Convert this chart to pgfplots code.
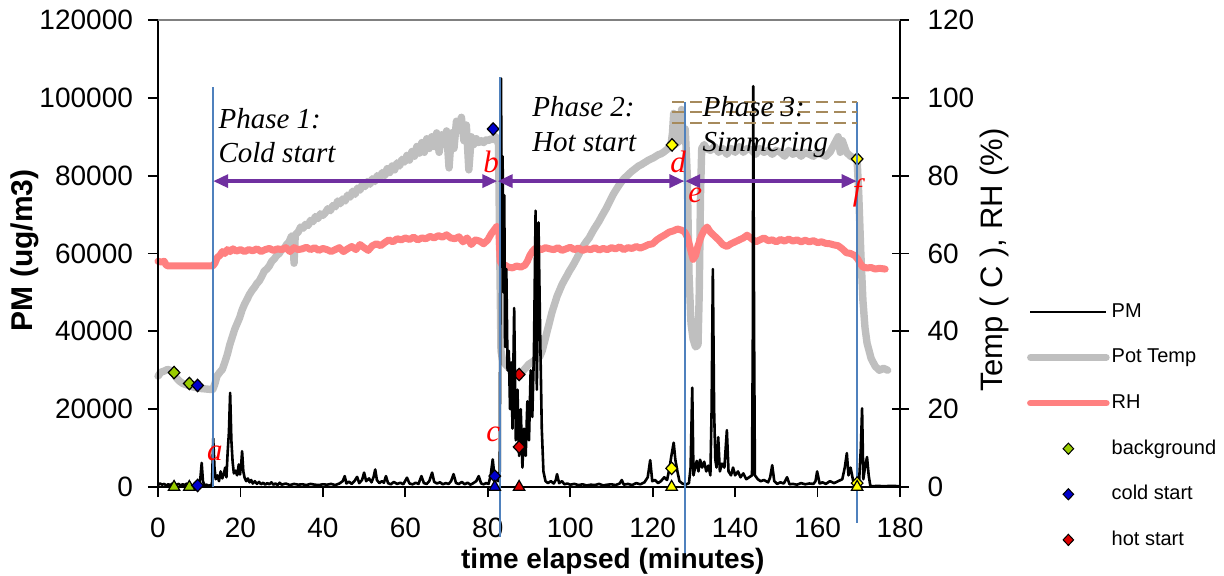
\documentclass[border=0pt]{standalone}
\usepackage{pgfplots}
\pgfplotsset{compat=1.18}
\usetikzlibrary{arrows.meta}
\usepackage{fontspec}
\setmainfont{Liberation Sans}
\newfontfamily\timesfont{Liberation Serif}

\definecolor{tempgray}{HTML}{BFBFBF}
\definecolor{rhpink}{HTML}{FF8080}
\definecolor{phasepurple}{HTML}{7030A0}
\definecolor{lineblue}{HTML}{4F81BD}
\definecolor{dashbrown}{HTML}{A68A5C}
\definecolor{bggreen}{HTML}{99CC00}
\definecolor{bgyellow}{HTML}{FFFF00}
\definecolor{coldblue}{HTML}{0000CC}
\definecolor{hotred}{HTML}{DD0000}

\newcommand\phasefont{\timesfont\itshape\fontsize{14.5}{17}\selectfont}
\newcommand\letterfont{\timesfont\itshape\fontsize{15.5}{18}\selectfont}

\pgfplotsset{
  base/.style={at={(79pt,44pt)}, anchor=south west, scale only axis,
    width=371pt, height=233.5pt, xmin=0, xmax=180, clip=false,
    tick label style={font=\fontsize{14}{16}\selectfont},
    axis line style={line width=0.9pt},
    every tick/.style={black, line width=0.9pt}},
  leg line/.style={legend image code/.code={\draw[#1] (0pt,0pt) -- (38pt,0pt);}},
  leg mark/.style={legend image code/.code={\draw[black, line width=0.5pt, #1] plot coordinates {(19pt,0pt)};}},
  dmark/.style={only marks, mark=diamond*, mark size=3.1pt,
    mark options={draw=black, line width=0.6pt, fill=#1, xscale=1.25}},
  tmark/.style={only marks, mark=triangle*, mark size=3.3pt,
    mark options={draw=black, line width=0.6pt, fill=#1}},
}

\begin{document}
\begin{tikzpicture}
% right axis: pot temperature and RH
\begin{axis}[base, ymin=0, ymax=120,
  axis x line=none, axis y line*=right,
  ytick={0,20,40,60,80,100,120}, yticklabels={0,20,40,60,80,100,120},
  tick align=center, major tick length=8.5pt,
  yticklabel style={anchor=west, xshift=6pt},
  ylabel={Temp ( C ), RH (\%)},
  every axis y label/.style={at={(axis description cs:1.127,0.486)}, anchor=center, rotate=90,
    font=\fontsize{15.5}{18}\selectfont},
]
\addplot[tempgray, line width=3.7pt, line join=round, line cap=round, forget plot] coordinates {
(0,28.5) (0.7,29.5) (1.5,29.8) (2.3,30.2) (3,30) (3.8,29.2) (4.5,28) (5.2,27.2) (6,26.6) (6.8,26.3)
(7.6,26) (8.5,25.7) (9.5,25.5) (10.5,25.3) (11.5,25.2) (12.5,25.1) (13.3,25.1) (13.8,26.5) (14.3,28.5)
(15,29.5) (15.6,30.2) (16.2,32) (16.8,34) (17.4,36.5) (18,38.5) (18.6,40.5) (19.2,42) (19.8,43.5)
(20.4,45.5) (21,47) (21.6,48.2) (22.2,49.5) (22.8,50.5) (23.4,51.3) (24,52.3) (24.6,53) (25.2,54.2)
(25.8,55.5) (26.4,56) (27,56.8) (27.6,58) (28.2,58.6) (28.8,59.5) (29.4,60) (30,61) (30.6,61.3)
(31.2,62.3) (31.8,63) (32.4,64.5) (32.8,64) (33,57.5) (33.3,64.8) (34,65.5) (34.6,66.8) (35.2,66.5)
(35.8,67.5) (36.4,67.2) (37,68.5) (37.6,68.2) (38.2,69.5) (38.8,69) (39.4,70.2) (40,69.8) (40.6,70.5)
(41.2,71.5) (41.8,71) (42.4,72.3) (43,72) (43.6,73.5) (44.2,72.8) (44.8,74) (45.4,73.5) (46,75)
(46.6,74.5) (47.2,76) (47.8,75.2) (48.4,76.8) (49,76.3) (49.6,77.8) (50.2,77.2) (50.8,78.5) (51.4,77.8)
(52,79.2) (52.6,78.5) (53.2,80) (53.8,79.5) (54.4,80.8) (55,80) (55.6,81.8) (56.2,80.8) (56.8,82.5)
(57.4,81.5) (58,83.3) (58.6,82.5) (59.2,84.2) (59.8,83.5) (60.4,85.2) (61,84) (61.6,86.2) (62.2,85)
(62.8,87.5) (63.4,85.8) (64,88.5) (64.6,86) (65.2,89.5) (65.8,87) (66.4,90) (67,87.5) (67.6,91)
(68.2,86) (68.8,90.5) (69.4,88) (70,91.5) (70.6,82) (71.2,91) (71.8,87) (72.4,94) (73,92) (73.6,95)
(74.2,89) (74.8,93) (75.4,81.5) (76,90) (76.6,88) (77.2,89.5) (77.8,88.5) (78.4,89) (79,88.5)
(79.6,89.2) (80.2,89) (80.8,89.5) (81.4,89.3) (82,90) (82.6,88) (82.9,60) (83.2,35) (83.6,32.5)
(84.3,31.5) (85,30.8) (85.7,30) (86.4,29.6) (87.1,29.2) (87.8,29.2) (88.5,29.8) (89.2,30.6) (89.9,31.5)
(90.6,32) (91.3,32.5) (92,33) (92.6,33.5) (93.2,35) (93.8,37.5) (94.4,40) (95,42.5) (95.6,45) (96.2,47)
(96.8,49) (97.4,50.5) (98,52) (98.6,53.2) (99.2,54.3) (99.8,55.5) (100.4,56.5) (101,57.6) (101.6,58.8)
(102.2,60) (102.8,61.2) (103.4,62.3) (104,63.2) (104.6,64) (105.2,65.2) (105.8,66.3) (106.4,67.3)
(107,68.3) (107.6,69.5) (108.2,70.6) (108.8,71.7) (109.4,73) (110,74.3) (110.6,75.5) (111.2,76.5)
(111.8,77.5) (112.4,78.4) (113,79.2) (113.6,79.8) (114.2,80.4) (114.8,81) (115.4,81.5) (116,82)
(116.6,82.5) (117.2,82.8) (117.8,83.2) (118.4,83.6) (119,84) (119.6,84.3) (120.2,84.6) (120.8,85)
(121.4,85.4) (122,85.6) (122.6,86) (123.2,86.5) (123.8,87) (124.4,87.5) (124.8,91) (125.1,96)
(125.4,88) (126,88.5) (126.6,89) (127,97) (127.4,89) (127.9,92) (128.4,80) (128.8,55) (129.3,42)
(129.8,38) (130.4,36) (131,36.5) (131.3,50) (131.6,75) (131.9,87) (132.5,88) (133,87) (134,86.5)
(135,87.5) (136,86) (137,87) (138,85.5) (139,87) (140,86) (141,87.5) (142,86) (143,87) (144,86.5)
(145,85.5) (146,87) (147,86) (148,86.5) (149,85.5) (150,86.5) (151,86) (152,85) (153,86.5) (154,85.5)
(155,86) (156,85) (157,86) (158,85.5) (159,85) (160,86) (161,85.5) (162,85) (163,86) (164,88)
(165,90) (165.5,86) (166,89) (167,86) (168,85) (169,84.5) (169.6,84) (170,75) (170.5,60) (171,48)
(171.5,41) (172,37) (173,33) (174,31) (175,30) (176,30.5) (177,30)
};
\addplot[rhpink, line width=3.5pt, line join=round, line cap=round, forget plot] coordinates {
(0,58) (0.8,57.8) (1.5,58) (2,57) (2.5,56.8) (4,56.8) (6,56.8) (8,56.8) (10,56.8) (12,56.8)
(13.3,56.8) (13.8,57.5) (14.4,59) (15,59.5) (15.6,60.5) (16.2,60) (16.8,61) (17.5,60.5) (18.2,61.2)
(19,60.6) (20,61) (21,60.5) (22,61) (23,60.7) (24,61.2) (25,60.5) (26,61) (27,61.3) (28,60.8)
(29,61.2) (30,61) (31,61.5) (32,60.5) (33,61.5) (34,61) (35,61.2) (36,61.6) (37,61) (38,61.5)
(39,60.8) (40,61.3) (41,61) (42,60.5) (43,61) (44,61.5) (45,60.5) (46,61.2) (47,61.8) (48,61)
(49,62.3) (50,61.5) (51,60.8) (52,62) (53,62.5) (54,62) (55,62.8) (56,63.5) (57,63) (58,63.8)
(59,63.5) (60,64) (61,63.6) (62,64.2) (63,63.5) (64,64) (65,63.8) (66,64.4) (67,64) (68,64.6)
(69,64.2) (70,64.8) (71,64) (72,63.8) (73,64.3) (74,63) (75,64) (76,62.3) (77,63.5) (78,63.2)
(79,62.5) (80,63.5) (80.8,65) (81.5,66) (82.2,67) (82.7,66) (83,58) (83.5,57) (84.2,57) (85,56.5)
(86,56.3) (87,56.8) (88,56.5) (89,57) (89.6,58) (90.2,59.5) (90.8,60.5) (91.4,61.2) (92,61.5)
(93,61) (94,61.5) (95,61.2) (96,61) (97,61.5) (98,60.8) (99,61.2) (100,61.6) (101,61) (102,61.4)
(103,60.8) (104,61.2) (105,61) (106,61.5) (107,60.9) (108,61.3) (109,61) (110,61.5) (111,61.2)
(112,61.7) (113,61) (114,61.5) (115,61.3) (116,61.8) (117,61.4) (118,61.8) (119,62.3) (120,62.5)
(121,63.5) (122,64.2) (123,64.8) (124,65.5) (125,65.8) (126,66.3) (127,66) (127.8,65.5) (128.5,64)
(129.2,61) (129.8,58.5) (130.4,59.5) (131,62) (131.8,64.5) (132.5,66) (133.2,66.8) (134,65.5)
(135,64.5) (136,63.5) (137,62.3) (138,61.8) (139,62.5) (140,63) (141,63.5) (142,64) (142.9,64.7)
(144,63.8) (145,63) (146,63.5) (147,64) (148,63.3) (149,63.5) (150,63) (151,63.6) (152,63.2)
(153,63.7) (154,63.2) (155,63.5) (156,63) (157,63.4) (158,63) (159,63.3) (160,62.8) (161,63)
(162,62.6) (163,62.5) (164,62.2) (165,62) (166,61.2) (167,60.2) (168,60) (169,59.5) (169.8,58.5)
(170.3,57.5) (171,56.5) (172,56.3) (173,56.4) (174,56) (175,56.2) (176.4,56)
};
% markers on the temperature trace
\addplot[dmark=bggreen, forget plot] coordinates {(3.9,29.4) (7.6,26.6)};
\addplot[dmark=bgyellow, forget plot] coordinates {(124.7,87.9) (169.6,84.3)};
\addplot[dmark=coldblue, forget plot] coordinates {(9.6,26.1) (81.3,92)};
\addplot[dmark=hotred, forget plot] coordinates {(87.6,28.9)};
\end{axis}

% left axis: PM
\begin{axis}[base, ymin=0, ymax=120000,
  axis x line*=bottom, axis y line*=left,
  scaled y ticks=false, scaled x ticks=false,
  xtick={0,20,40,60,80,100,120,140,160,180},
  xticklabels={0,20,40,60,80,100,120,140,160,180},
  ytick={0,20000,40000,60000,80000,100000,120000},
  yticklabels={0,20000,40000,60000,80000,100000,120000},
  tick align=outside, major tick length=5pt,
  xticklabel style={yshift=-7pt},
  yticklabel style={xshift=-4pt},
  xlabel={time elapsed (minutes)}, ylabel={PM (ug/m3)},
  every axis x label/.style={at={(axis description cs:0.613,-0.158)}, anchor=center,
    font=\bfseries\fontsize{14}{16}\selectfont},
  every axis y label/.style={at={(axis description cs:-0.179,0.507)}, anchor=center, rotate=90,
    font=\bfseries\fontsize{15}{18}\selectfont},
  legend style={at={(1.168,0.4026)}, anchor=north west, draw=none, fill=none,
    font=\fontsize{10}{12}\selectfont, row sep=10.3pt, inner xsep=1pt, inner ysep=0pt,
    nodes={inner sep=1pt, text height=8pt, text depth=2.5pt}},
  legend cell align=left,
]
\draw[gray, line width=0.8pt] (rel axis cs:0,1) -- (rel axis cs:1,1);
\addplot[black, line width=1.3pt, line join=round, forget plot] coordinates {
(0,500) (0.5,900) (1,600) (1.5,800) (2,400) (2.5,700) (3,500) (3.5,900) (4,300) (4.5,600) (5,800)
(5.5,400) (6,700) (6.5,500) (7,900) (7.5,400) (8,600) (8.5,300) (9,700) (9.5,500) (10,900) (10.3,2500)
(10.6,6200) (10.9,1500) (11.3,400) (11.8,600) (12.3,300) (12.8,500) (13.1,800) (13.4,12500) (13.7,5000)
(14,2000) (14.4,3000) (14.8,1500) (15.2,4000) (15.6,2200) (16,3500) (16.3,5000) (16.6,2500) (16.9,9000)
(17.2,14000) (17.5,24200) (17.8,12000) (18.1,6500) (18.4,3500) (18.8,4200) (19.2,3000) (19.6,5800)
(19.9,3200) (20.2,6000) (20.4,9200) (20.7,4000) (21,2400) (21.4,1500) (21.8,2200) (22.2,1200)
(22.6,1800) (23,900) (23.5,1500) (24,800) (24.5,1300) (25,700) (25.5,1100) (26,600) (26.5,1000)
(27,700) (27.5,1200) (28,600) (28.5,900) (29,500) (29.5,1100) (30,600) (31,900) (32,500) (33,800)
(34,600) (35,700) (36,500) (37,800) (38,600) (39,500) (40,700) (41,600) (42,800) (43,500) (44,900)
(44.8,1500) (45.3,2800) (45.7,900) (46.3,1400) (47,800) (47.7,1600) (48.3,2600) (48.8,1000)
(49.5,1800) (50,3700) (50.5,1500) (51.2,2200) (51.8,1200) (52.3,2600) (52.7,4500) (53.1,1800)
(53.7,1000) (54.3,1500) (54.8,1100) (55.3,2800) (55.8,1000) (56.5,700) (57.2,1300) (58,800)
(58.8,1100) (59.5,700) (60.4,2400) (61,900) (61.8,700) (62.5,1100) (63.2,800) (63.9,2800) (64.5,1000)
(65.2,800) (65.8,1500) (66.5,3700) (67,1300) (67.7,900) (68.4,1200) (69.1,700) (69.8,1000) (70.5,800)
(71.1,1500) (71.7,3300) (72.3,1000) (73,800) (73.7,1300) (74.4,700) (75.1,1100) (75.8,600) (76.5,1000)
(77.2,1500) (77.8,2800) (78.4,900) (79,700) (79.6,1000) (80.2,800) (80.7,3000) (81.2,7100) (81.6,3000)
(82,2000) (82.5,1500) (82.9,4000) (83.2,105000) (83.4,70000) (83.6,85000) (83.8,50000) (84,75000)
(84.2,36000) (84.5,56000) (84.8,30000) (85.1,35000) (85.4,20000) (85.7,32000) (86,15000) (86.4,46000)
(86.8,12000) (87.2,25000) (87.6,8000) (88,20000) (88.4,5000) (88.8,15000) (89.2,8000) (89.6,22000)
(90,12000) (90.4,30000) (90.8,18000) (91.2,35000) (91.6,71000) (91.9,25000) (92.3,68000) (92.7,40000)
(93.1,15000) (93.5,4000) (94,1500) (94.6,1000) (95.3,1500) (96,900) (96.5,1800) (96.8,3300) (97.3,1000)
(98,1500) (98.6,700) (99.3,900) (100,600) (101,800) (102,500) (103,700) (104,400) (105,600) (106,500)
(107,800) (108,400) (109,600) (110,700) (111,500) (112,900) (112.5,1800) (113,600) (114,800) (115,500)
(116,1000) (117,700) (118,1200) (118.8,2500) (119.4,6900) (119.9,1500) (120.6,1800) (121.3,1000)
(122,1500) (122.8,2500) (123.5,1800) (124.1,5000) (124.6,8400) (125.1,11400) (125.5,7000) (126,4000)
(126.5,1500) (127.2,900) (128,600) (128.8,1000) (129.2,5000) (129.6,25500) (129.9,3000) (130.3,5000)
(130.7,6700) (131.1,4000) (131.5,7000) (132,5000) (132.5,6500) (133,4000) (133.5,5500) (134,3000)
(134.3,20000) (134.6,56000) (134.9,20000) (135.2,7000) (135.5,5000) (135.9,12800) (136.3,4000)
(136.8,6000) (137.4,5000) (138,14600) (138.4,4000) (139,3000) (139.5,5000) (140,3000) (140.7,4000)
(141.3,2500) (142,3500) (142.7,2000) (143.4,2500) (144.1,3000) (144.3,40000) (144.4,103000)
(144.6,40000) (144.8,3000) (145.5,2000) (146.2,1500) (147,1800) (148,1200) (148.5,2500) (149,5600)
(149.5,1500) (150.2,800) (151,1200) (151.8,900) (152.6,2500) (153.2,700) (154,800) (155,600) (156,1000)
(157,700) (158,900) (159,800) (159.5,1500) (159.9,4000) (160.5,900) (161.2,1200) (162,800) (163,1500)
(164,1000) (165,1500) (166,2000) (166.6,5000) (167.1,8700) (167.5,3000) (168,5000) (168.6,1800)
(169.1,1000) (169.6,1500) (170.1,2000) (170.5,10000) (170.8,20200) (171.1,2000) (171.5,5000)
(172,7700) (172.4,3000) (172.8,300) (173.5,200) (174.5,300) (176,200) (178,300) (180,200)
};
% markers on the PM trace
\addplot[tmark=bggreen, forget plot] coordinates {(3.9,0) (7.6,0)};
\addplot[dmark=coldblue, forget plot] coordinates {(9.6,400) (81.7,2800)};
\addplot[tmark=coldblue, forget plot] coordinates {(81.7,0)};
\addplot[dmark=hotred, forget plot] coordinates {(87.6,10300)};
\addplot[tmark=hotred, forget plot] coordinates {(87.6,0)};
\addplot[dmark=bgyellow, forget plot] coordinates {(124.6,4800) (169.6,1000)};
\addplot[tmark=bgyellow, forget plot] coordinates {(124.6,0) (169.6,0)};

% legend
\addlegendimage{leg line={black, line width=1.2pt}}
\addlegendentry{PM}
\addlegendimage{leg line={tempgray, line width=3.3pt, line cap=round}}
\addlegendentry{Pot Temp}
\addlegendimage{leg line={rhpink, line width=3.3pt, line cap=round}}
\addlegendentry{RH}
\addlegendimage{leg mark={mark=diamond*, mark size=2.8pt, mark options={fill=bggreen, xscale=1.25}}}
\addlegendentry{background}
\addlegendimage{leg mark={mark=diamond*, mark size=2.8pt, mark options={fill=coldblue, xscale=1.25}}}
\addlegendentry{cold start}
\addlegendimage{leg mark={mark=diamond*, mark size=2.8pt, mark options={fill=hotred, xscale=1.25}}}
\addlegendentry{hot start}

% phase boundaries and annotations (y in PM units, = right-axis value x 1000)
\draw[lineblue, line width=0.8pt] (axis cs:13.3,0) -- (axis cs:13.3,102800);
\draw[lineblue, line width=0.8pt] (axis cs:83.0,-12800) -- (axis cs:83.0,105300);
\draw[lineblue, line width=0.8pt] (axis cs:127.8,-19500) -- (axis cs:127.8,98900);
\draw[lineblue, line width=0.8pt] (axis cs:169.6,-9200) -- (axis cs:169.6,98900);
\draw[dashbrown, line width=1pt, dash pattern=on 6pt off 3pt] (axis cs:124.7,98900) -- (axis cs:169.6,98900);
\draw[dashbrown, line width=1pt, dash pattern=on 6pt off 3pt] (axis cs:124.7,96300) -- (axis cs:169.6,96300);
\draw[dashbrown, line width=1pt, dash pattern=on 6pt off 3pt] (axis cs:124.7,93500) -- (axis cs:169.6,93500);
\draw[phasepurple, line width=1.7pt, {Triangle[length=7.5pt,width=6.5pt]}-{Triangle[length=7.5pt,width=6.5pt]}]
  (axis cs:13.4,78600) -- (axis cs:82.3,78600);
\draw[phasepurple, line width=1.7pt, {Triangle[length=7.5pt,width=6.5pt]}-{Triangle[length=7.5pt,width=6.5pt]}]
  (axis cs:82.4,78600) -- (axis cs:127.7,78600);
\draw[phasepurple, line width=1.7pt, {Triangle[length=7.5pt,width=6.5pt]}-{Triangle[length=7.5pt,width=6.5pt]}]
  (axis cs:127.9,78600) -- (axis cs:169.5,78600);
\node[anchor=base west, font=\phasefont, inner sep=0pt] at (axis cs:14.6,92200) {Phase 1:};
\node[anchor=base west, font=\phasefont, inner sep=0pt] at (axis cs:14.6,83500) {Cold start};
\node[anchor=base west, font=\phasefont, inner sep=0pt] at (axis cs:90.7,95100) {Phase 2:};
\node[anchor=base west, font=\phasefont, inner sep=0pt] at (axis cs:90.7,86300) {Hot start};
\node[anchor=base west, font=\phasefont, inner sep=0pt] at (axis cs:132,95100) {Phase 3:};
\node[anchor=base west, font=\phasefont, inner sep=0pt] at (axis cs:132,86300) {Simmering};
\node[anchor=base, font=\letterfont, text=red, inner sep=0pt] at (axis cs:13.8,6900) {a};
\node[anchor=base, font=\letterfont, text=red, inner sep=0pt] at (axis cs:80.8,80700) {b};
\node[anchor=base, font=\letterfont, text=red, inner sep=0pt] at (axis cs:81.3,11600) {c};
\node[anchor=base, font=\letterfont, text=red, inner sep=0pt] at (axis cs:126.2,80700) {d};
\node[anchor=base, font=\letterfont, text=red, inner sep=0pt] at (axis cs:130.3,73000) {e};
\node[anchor=base, font=\letterfont, text=red, inner sep=0pt] at (axis cs:169.6,73700) {f};
\end{axis}
\pgfresetboundingbox
\path[use as bounding box] (0,0) rectangle (612pt,287.5pt);
\end{tikzpicture}
\end{document}
